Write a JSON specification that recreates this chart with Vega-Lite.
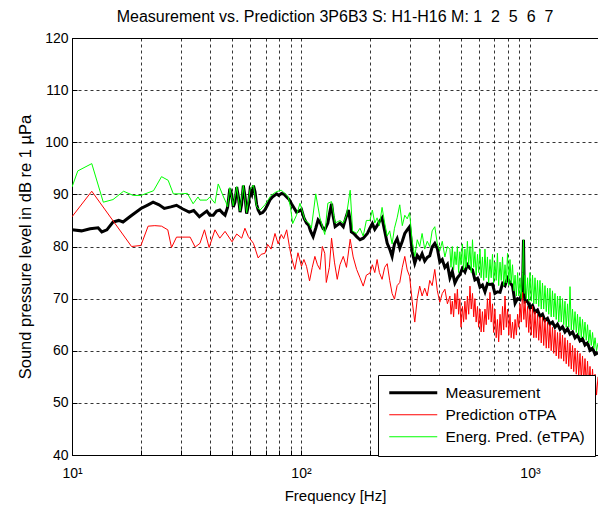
{
"$schema": "https://vega.github.io/schema/vega-lite/v6.json",
"width": 526, "height": 417,
"autosize": {"type": "none"},
"padding": {"left": 72, "top": 38, "right": 0, "bottom": 50},
"background": "white",
"title": {"text": "Measurement vs. Prediction 3P6B3 S: H1-H16 M: 1\u00a0 2\u00a0 5\u00a0 6\u00a0 7", "fontSize": 16, "fontWeight": "normal", "font": "Liberation Sans", "color": "black", "offset": 6},
"config": {
  "font": "Liberation Sans",
  "view": {"stroke": "black", "strokeWidth": 1},
  "axis": {"domainColor": "black", "tickColor": "black", "labelColor": "black", "titleColor": "black", "labelFontSize": 14, "titleFontSize": 15, "titleFontWeight": "normal", "grid": true, "gridColor": "black", "gridOpacity": 1, "gridDash": [3, 3], "gridWidth": 0.8, "tickSize": -5}
},
"data": {"values": [
{"s":"m","f":10,"v":83.2},{"s":"m","f":11,"v":83.0},{"s":"m","f":12,"v":83.4},{"s":"m","f":13,"v":83.6},{"s":"m","f":13.5,"v":82.8},{"s":"m","f":14.2,"v":83.2},{"s":"m","f":15.1,"v":84.7},{"s":"m","f":16,"v":85.0},{"s":"m","f":16.7,"v":84.7},{"s":"m","f":18,"v":85.8},{"s":"m","f":20,"v":87.3},{"s":"m","f":21.5,"v":88.0},{"s":"m","f":22.6,"v":88.5},{"s":"m","f":24,"v":88.0},{"s":"m","f":25.3,"v":87.3},{"s":"m","f":27,"v":87.6},{"s":"m","f":28.6,"v":87.9},{"s":"m","f":30.5,"v":87.2},{"s":"m","f":32.5,"v":86.6},{"s":"m","f":34,"v":86.9},{"s":"m","f":36,"v":85.7},{"s":"m","f":37.5,"v":86.3},{"s":"m","f":38.8,"v":86.8},{"s":"m","f":40,"v":86.0},{"s":"m","f":41.4,"v":86.0},{"s":"m","f":42.8,"v":86.8},{"s":"m","f":44.2,"v":87.0},{"s":"m","f":45.5,"v":86.4},{"s":"m","f":46.6,"v":86.0},{"s":"m","f":47.8,"v":87.5},{"s":"m","f":48.9,"v":91.1},{"s":"m","f":49.8,"v":90.0},{"s":"m","f":50.6,"v":87.6},{"s":"m","f":51.5,"v":88.5},{"s":"m","f":52.4,"v":91.4},{"s":"m","f":53.3,"v":89.5},{"s":"m","f":54.2,"v":86.6},{"s":"m","f":55,"v":88},{"s":"m","f":56,"v":91.7},{"s":"m","f":57,"v":89.5},{"s":"m","f":57.9,"v":86.3},{"s":"m","f":59,"v":88},{"s":"m","f":59.9,"v":90.8},{"s":"m","f":61,"v":90.0},{"s":"m","f":62,"v":91.7},{"s":"m","f":63,"v":90.5},{"s":"m","f":64,"v":88.1},{"s":"m","f":65,"v":87},{"s":"m","f":66.3,"v":86.3},{"s":"m","f":68,"v":86.5},{"s":"m","f":69.6,"v":87},{"s":"m","f":71.5,"v":88},{"s":"m","f":73.1,"v":88.9},{"s":"m","f":75,"v":89.5},{"s":"m","f":78.3,"v":90.1},{"s":"m","f":80,"v":89.8},{"s":"m","f":82.3,"v":90.2},{"s":"m","f":84.5,"v":90.0},{"s":"m","f":86.6,"v":89.5},{"s":"m","f":88.8,"v":89.0},{"s":"m","f":90.9,"v":88.2},{"s":"m","f":93,"v":87.5},{"s":"m","f":95.6,"v":86.6},{"s":"m","f":98,"v":86.8},{"s":"m","f":100.5,"v":87.1},{"s":"m","f":103,"v":85.5},{"s":"m","f":105.7,"v":84.5},{"s":"m","f":108,"v":84.1},{"s":"m","f":110,"v":83.0},{"s":"m","f":113,"v":81.9},{"s":"m","f":116,"v":83.5},{"s":"m","f":118.8,"v":85.1},{"s":"m","f":121,"v":84.7},{"s":"m","f":125,"v":83.4},{"s":"m","f":127,"v":83.2},{"s":"m","f":131,"v":84.5},{"s":"m","f":133.5,"v":86.5},{"s":"m","f":136,"v":88.2},{"s":"m","f":138,"v":86},{"s":"m","f":141,"v":83.8},{"s":"m","f":145,"v":84.2},{"s":"m","f":148,"v":84.5},{"s":"m","f":153,"v":83.8},{"s":"m","f":157,"v":85.5},{"s":"m","f":161,"v":87},{"s":"m","f":164,"v":85},{"s":"m","f":166,"v":82.8},{"s":"m","f":170,"v":82.5},{"s":"m","f":175,"v":81.9},{"s":"m","f":181,"v":81.3},{"s":"m","f":187,"v":81.6},{"s":"m","f":195,"v":82.5},
{"s":"m","f":200,"v":83.5},{"s":"m","f":205,"v":84.4},{"s":"m","f":210,"v":83.3},{"s":"m","f":215,"v":84.0},{"s":"m","f":220,"v":84.8},{"s":"m","f":226,"v":85.5},{"s":"m","f":232,"v":83.0},{"s":"m","f":238,"v":80.6},{"s":"m","f":244,"v":79.5},{"s":"m","f":250,"v":78.1},{"s":"m","f":256,"v":80.5},{"s":"m","f":263,"v":81.5},{"s":"m","f":270,"v":79.7},{"s":"m","f":277,"v":81.0},{"s":"m","f":284,"v":82.5},{"s":"m","f":291,"v":83.2},{"s":"m","f":298,"v":83.8},{"s":"m","f":306,"v":79.0},{"s":"m","f":314,"v":76.8},{"s":"m","f":322,"v":78.3},{"s":"m","f":330,"v":77.6},{"s":"m","f":338,"v":78.6},{"s":"m","f":347,"v":77.2},{"s":"m","f":356,"v":77.9},{"s":"m","f":365,"v":78.2},{"s":"m","f":374,"v":79.9},{"s":"m","f":384,"v":80.6},{"s":"m","f":394,"v":79.6},{"s":"m","f":404,"v":77.0},{"s":"m","f":414,"v":77.5},{"s":"m","f":425,"v":76.0},{"s":"m","f":436,"v":76.6},{"s":"m","f":447,"v":74.0},{"s":"m","f":458,"v":75.2},{"s":"m","f":470,"v":73.0},{"s":"m","f":482,"v":74.0},{"s":"m","f":494,"v":74.6},{"s":"m","f":507,"v":75.8},{"s":"m","f":520,"v":75.1},{"s":"m","f":533,"v":76.5},{"s":"m","f":547,"v":75.8},{"s":"m","f":561,"v":75.5},{"s":"m","f":575,"v":73.6},{"s":"m","f":590,"v":73.9},{"s":"m","f":605,"v":72.2},{"s":"m","f":620,"v":72.6},{"s":"m","f":636,"v":71.3},{"s":"m","f":652,"v":72.9},{"s":"m","f":669,"v":72.7},{"s":"m","f":686,"v":72.8},{"s":"m","f":703,"v":71.0},{"s":"m","f":721,"v":71.3},{"s":"m","f":740,"v":71.2},{"s":"m","f":759,"v":72.9},{"s":"m","f":778,"v":72.5},{"s":"m","f":798,"v":73.9},{"s":"m","f":818,"v":73.1},{"s":"m","f":839,"v":72.4},{"s":"m","f":861,"v":69.1},{"s":"m","f":883,"v":70.0},{"s":"m","f":905,"v":69.8},{"s":"m","f":928,"v":71.4},{"s":"m","f":937,"v":81.3},{"s":"m","f":945,"v":70.5},{"s":"m","f":952,"v":69.4},{"s":"m","f":976,"v":69.6},{"s":"m","f":1000,"v":68.2},{"s":"m","f":1026,"v":68.7},{"s":"m","f":1052,"v":67.4},{"s":"m","f":1079,"v":67.8},{"s":"m","f":1106,"v":66.6},{"s":"m","f":1134,"v":67.0},{"s":"m","f":1163,"v":65.8},{"s":"m","f":1193,"v":66.2},{"s":"m","f":1223,"v":65.1},{"s":"m","f":1254,"v":65.5},{"s":"m","f":1286,"v":64.5},{"s":"m","f":1319,"v":65.1},{"s":"m","f":1353,"v":64.1},{"s":"m","f":1387,"v":64.6},{"s":"m","f":1422,"v":63.6},{"s":"m","f":1459,"v":64.2},{"s":"m","f":1496,"v":63.2},{"s":"m","f":1534,"v":63.6},{"s":"m","f":1573,"v":62.5},{"s":"m","f":1613,"v":63.0},{"s":"m","f":1654,"v":61.9},{"s":"m","f":1696,"v":62.3},{"s":"m","f":1739,"v":61.1},{"s":"m","f":1784,"v":61.5},{"s":"m","f":1829,"v":60.1},{"s":"m","f":1876,"v":60.5},{"s":"m","f":1924,"v":59.3},{"s":"m","f":1982,"v":59.6},
{"s":"p","f":10,"v":85.7},{"s":"p","f":12.2,"v":90.6},{"s":"p","f":18.2,"v":80.0},{"s":"p","f":20,"v":80.2},{"s":"p","f":21.5,"v":83.9},{"s":"p","f":23,"v":84.0},{"s":"p","f":24.6,"v":83.9},{"s":"p","f":26.2,"v":83.2},{"s":"p","f":27.2,"v":79.8},{"s":"p","f":28.6,"v":81.8},{"s":"p","f":30.5,"v":81.8},{"s":"p","f":32.8,"v":81.8},{"s":"p","f":34.5,"v":79.9},{"s":"p","f":36.2,"v":80.6},{"s":"p","f":37.9,"v":83.2},{"s":"p","f":39.7,"v":79.8},{"s":"p","f":42.1,"v":83.2},{"s":"p","f":44.2,"v":81.6},{"s":"p","f":46.6,"v":82.9},{"s":"p","f":50,"v":80.9},{"s":"p","f":52.4,"v":82.4},{"s":"p","f":55.1,"v":81.6},{"s":"p","f":56.9,"v":83.5},{"s":"p","f":58.9,"v":81.9},{"s":"p","f":62,"v":80.6},{"s":"p","f":65,"v":77.8},{"s":"p","f":67,"v":78.5},{"s":"p","f":69.6,"v":78.7},{"s":"p","f":71.5,"v":80.4},{"s":"p","f":74,"v":79.5},{"s":"p","f":77,"v":82.5},{"s":"p","f":79.5,"v":80.5},{"s":"p","f":82,"v":82.3},{"s":"p","f":84,"v":81.5},{"s":"p","f":86.6,"v":83.2},{"s":"p","f":89,"v":80.0},{"s":"p","f":91,"v":77.8},{"s":"p","f":94,"v":75.6},{"s":"p","f":97,"v":78.8},{"s":"p","f":100.5,"v":76.2},{"s":"p","f":103,"v":77.5},{"s":"p","f":105.7,"v":76.2},{"s":"p","f":109,"v":73.4},{"s":"p","f":112,"v":76},{"s":"p","f":115,"v":78.1},{"s":"p","f":118,"v":76.5},{"s":"p","f":121,"v":75.6},{"s":"p","f":124,"v":80.0},{"s":"p","f":127,"v":78.7},{"s":"p","f":129,"v":73.1},{"s":"p","f":133,"v":76},{"s":"p","f":136,"v":81.6},{"s":"p","f":140,"v":77},{"s":"p","f":144,"v":73.7},{"s":"p","f":148,"v":76.5},{"s":"p","f":153,"v":78.1},{"s":"p","f":158,"v":76},{"s":"p","f":164,"v":81.4},{"s":"p","f":169,"v":78},{"s":"p","f":175,"v":75.6},{"s":"p","f":181,"v":74},{"s":"p","f":187,"v":72.4},{"s":"p","f":193,"v":74.5},
{"s":"p","f":200,"v":74.9},{"s":"p","f":205,"v":76.5},{"s":"p","f":210,"v":75.0},{"s":"p","f":215,"v":77.5},{"s":"p","f":220,"v":75.0},{"s":"p","f":226,"v":73.7},{"s":"p","f":232,"v":76.0},{"s":"p","f":238,"v":76.7},{"s":"p","f":244,"v":73.5},{"s":"p","f":250,"v":71.0},{"s":"p","f":256,"v":69.9},{"s":"p","f":263,"v":72.5},{"s":"p","f":270,"v":73.1},{"s":"p","f":277,"v":76.0},{"s":"p","f":284,"v":78.1},{"s":"p","f":291,"v":75.5},{"s":"p","f":298,"v":74.3},{"s":"p","f":306,"v":69.5},{"s":"p","f":314,"v":65.5},{"s":"p","f":322,"v":70.0},{"s":"p","f":330,"v":72.4},{"s":"p","f":338,"v":70.5},{"s":"p","f":347,"v":72.0},{"s":"p","f":356,"v":70.5},{"s":"p","f":365,"v":73.5},{"s":"p","f":374,"v":72.5},{"s":"p","f":384,"v":75.6},{"s":"p","f":394,"v":71.5},{"s":"p","f":404,"v":69.3},{"s":"p","f":414,"v":71.0},{"s":"p","f":425,"v":71.8},{"s":"p","f":436,"v":69.0},
{"s":"p","f":447,"v":70.5},{"s":"p","f":452,"v":67.0},{"s":"p","f":458,"v":69.5},{"s":"p","f":464,"v":66.5},{"s":"p","f":470,"v":71.0},{"s":"p","f":476,"v":68.0},{"s":"p","f":482,"v":71.8},{"s":"p","f":488,"v":67.0},{"s":"p","f":494,"v":70.0},{"s":"p","f":500,"v":64.5},{"s":"p","f":507,"v":68.5},{"s":"p","f":513,"v":65.5},{"s":"p","f":520,"v":69.5},{"s":"p","f":526,"v":66.0},{"s":"p","f":533,"v":70.5},{"s":"p","f":540,"v":67.0},{"s":"p","f":547,"v":72.4},{"s":"p","f":554,"v":68.0},{"s":"p","f":561,"v":71.0},{"s":"p","f":568,"v":66.5},{"s":"p","f":575,"v":70.0},{"s":"p","f":582,"v":65.5},{"s":"p","f":590,"v":68.5},{"s":"p","f":597,"v":64.5},{"s":"p","f":605,"v":68.0},{"s":"p","f":612,"v":63.6},{"s":"p","f":620,"v":67.5},{"s":"p","f":628,"v":63.6},{"s":"p","f":636,"v":68.0},{"s":"p","f":644,"v":65.0},{"s":"p","f":652,"v":70.0},{"s":"p","f":660,"v":66.0},{"s":"p","f":669,"v":71.2},{"s":"p","f":677,"v":65.5},{"s":"p","f":686,"v":69.0},{"s":"p","f":694,"v":63.5},{"s":"p","f":703,"v":68.0},{"s":"p","f":712,"v":62.5},{"s":"p","f":721,"v":66.0},{"s":"p","f":730,"v":61.7},{"s":"p","f":740,"v":67.0},{"s":"p","f":749,"v":63.0},{"s":"p","f":759,"v":68.5},{"s":"p","f":768,"v":64.0},{"s":"p","f":778,"v":70.5},{"s":"p","f":788,"v":64.5},{"s":"p","f":798,"v":68.0},{"s":"p","f":808,"v":63.0},{"s":"p","f":818,"v":67.0},{"s":"p","f":828,"v":62.5},{"s":"p","f":839,"v":65.5},{"s":"p","f":850,"v":62.3},{"s":"p","f":861,"v":66.0},{"s":"p","f":872,"v":63.0},{"s":"p","f":883,"v":67.0},{"s":"p","f":894,"v":64.5},{"s":"p","f":905,"v":69.0},{"s":"p","f":916,"v":65.5},{"s":"p","f":928,"v":71.2},{"s":"p","f":940,"v":66.0},{"s":"p","f":952,"v":69.5},{"s":"p","f":964,"v":64.5},{"s":"p","f":976,"v":68.5},{"s":"p","f":988,"v":63.5},{"s":"p","f":1000,"v":68.0},{"s":"p","f":1013,"v":63.0},{"s":"p","f":1026,"v":68.5},{"s":"p","f":1039,"v":62.5},{"s":"p","f":1052,"v":67.5},{"s":"p","f":1065,"v":62.5},{"s":"p","f":1079,"v":67.0},{"s":"p","f":1092,"v":62.0},{"s":"p","f":1106,"v":66.5},{"s":"p","f":1120,"v":61.5},{"s":"p","f":1134,"v":66.5},{"s":"p","f":1148,"v":61.0},{"s":"p","f":1163,"v":66.0},{"s":"p","f":1178,"v":60.5},{"s":"p","f":1193,"v":65.5},{"s":"p","f":1208,"v":60.5},{"s":"p","f":1223,"v":65.0},{"s":"p","f":1238,"v":60.0},{"s":"p","f":1254,"v":64.5},{"s":"p","f":1270,"v":59.5},{"s":"p","f":1286,"v":64.0},{"s":"p","f":1302,"v":59.0},{"s":"p","f":1319,"v":63.5},{"s":"p","f":1336,"v":58.5},{"s":"p","f":1353,"v":63.5},{"s":"p","f":1370,"v":58.5},{"s":"p","f":1387,"v":63.0},{"s":"p","f":1404,"v":58.0},{"s":"p","f":1422,"v":62.5},{"s":"p","f":1440,"v":57.5},{"s":"p","f":1459,"v":62.0},{"s":"p","f":1477,"v":57.0},{"s":"p","f":1496,"v":61.5},{"s":"p","f":1515,"v":56.5},{"s":"p","f":1534,"v":61.0},{"s":"p","f":1553,"v":56.0},{"s":"p","f":1573,"v":60.5},{"s":"p","f":1593,"v":55.5},{"s":"p","f":1613,"v":60.0},{"s":"p","f":1633,"v":55.0},{"s":"p","f":1654,"v":59.5},{"s":"p","f":1675,"v":54.5},{"s":"p","f":1696,"v":59.0},{"s":"p","f":1717,"v":54.0},{"s":"p","f":1739,"v":58.5},{"s":"p","f":1761,"v":53.5},{"s":"p","f":1784,"v":58.0},{"s":"p","f":1806,"v":53.0},{"s":"p","f":1829,"v":57.0},{"s":"p","f":1852,"v":52.5},{"s":"p","f":1876,"v":56.5},{"s":"p","f":1900,"v":52.0},{"s":"p","f":1924,"v":55.5},{"s":"p","f":1953,"v":51.5},{"s":"p","f":1982,"v":55.0},
{"s":"e","f":10,"v":91.4},{"s":"e","f":10.6,"v":94.5},{"s":"e","f":12.2,"v":95.9},{"s":"e","f":13.7,"v":88.5},{"s":"e","f":15.1,"v":89.0},{"s":"e","f":16.8,"v":90.6},{"s":"e","f":18.5,"v":89.8},{"s":"e","f":20,"v":89.8},{"s":"e","f":22.7,"v":90.7},{"s":"e","f":24.6,"v":93.4},{"s":"e","f":26.3,"v":92.7},{"s":"e","f":27.7,"v":90.1},{"s":"e","f":30,"v":90.1},{"s":"e","f":31.9,"v":90.2},{"s":"e","f":33.8,"v":88.2},{"s":"e","f":35.5,"v":89.5},{"s":"e","f":36.2,"v":88.9},{"s":"e","f":38.8,"v":88.9},{"s":"e","f":40,"v":89.5},{"s":"e","f":42.1,"v":88.3},{"s":"e","f":43.5,"v":92.0},{"s":"e","f":45.9,"v":89.5},{"s":"e","f":47,"v":88.5},{"s":"e","f":47.8,"v":87.6},{"s":"e","f":48.9,"v":91.3},{"s":"e","f":50.6,"v":87.8},{"s":"e","f":52.4,"v":91.5},{"s":"e","f":54.2,"v":86.8},{"s":"e","f":56,"v":91.8},{"s":"e","f":57.9,"v":86.5},{"s":"e","f":59.9,"v":90.9},{"s":"e","f":62,"v":91.8},{"s":"e","f":64,"v":87.6},{"s":"e","f":66.3,"v":87.0},{"s":"e","f":69.6,"v":88.0},{"s":"e","f":74,"v":89.8},{"s":"e","f":78,"v":90.5},{"s":"e","f":82,"v":90.8},{"s":"e","f":85,"v":90.2},{"s":"e","f":88,"v":89.5},{"s":"e","f":90,"v":87.5},{"s":"e","f":92,"v":84.4},{"s":"e","f":95.6,"v":86.0},{"s":"e","f":99,"v":88.3},{"s":"e","f":104,"v":85.1},{"s":"e","f":108,"v":84.5},{"s":"e","f":111,"v":83.5},{"s":"e","f":116,"v":90.1},{"s":"e","f":121,"v":85.5},{"s":"e","f":127,"v":82.3},{"s":"e","f":131,"v":88.3},{"s":"e","f":136,"v":88.6},{"s":"e","f":141,"v":84.5},{"s":"e","f":148,"v":85},{"s":"e","f":153,"v":84.5},{"s":"e","f":158,"v":86},{"s":"e","f":164,"v":90.8},{"s":"e","f":168,"v":83},{"s":"e","f":175,"v":82.5},{"s":"e","f":181,"v":83.5},{"s":"e","f":187,"v":82},{"s":"e","f":193,"v":85},
{"s":"e","f":200,"v":85.0},{"s":"e","f":205,"v":87.0},{"s":"e","f":210,"v":84.5},{"s":"e","f":215,"v":85.5},{"s":"e","f":220,"v":84.0},{"s":"e","f":226,"v":87.5},{"s":"e","f":232,"v":84.5},{"s":"e","f":238,"v":82.0},{"s":"e","f":244,"v":83.0},{"s":"e","f":250,"v":80.5},{"s":"e","f":256,"v":83.5},{"s":"e","f":263,"v":85.5},{"s":"e","f":270,"v":88.0},{"s":"e","f":277,"v":84.0},{"s":"e","f":284,"v":86.0},{"s":"e","f":291,"v":85.3},{"s":"e","f":298,"v":86.5},{"s":"e","f":306,"v":81.0},{"s":"e","f":314,"v":78.1},{"s":"e","f":322,"v":81.3},{"s":"e","f":330,"v":80.0},{"s":"e","f":338,"v":82.5},{"s":"e","f":347,"v":79.5},{"s":"e","f":356,"v":81.0},{"s":"e","f":365,"v":80.0},{"s":"e","f":374,"v":83.0},{"s":"e","f":384,"v":83.8},{"s":"e","f":394,"v":80.5},{"s":"e","f":404,"v":79.2},{"s":"e","f":414,"v":81.0},{"s":"e","f":425,"v":78.0},{"s":"e","f":436,"v":80.0},
{"s":"e","f":447,"v":79.5},{"s":"e","f":452,"v":76.0},{"s":"e","f":458,"v":80.0},{"s":"e","f":464,"v":75.5},{"s":"e","f":470,"v":79.0},{"s":"e","f":476,"v":76.5},{"s":"e","f":482,"v":80.0},{"s":"e","f":488,"v":75.0},{"s":"e","f":494,"v":79.0},{"s":"e","f":500,"v":76.5},{"s":"e","f":507,"v":80.5},{"s":"e","f":513,"v":75.5},{"s":"e","f":520,"v":79.5},{"s":"e","f":526,"v":76.0},{"s":"e","f":533,"v":81.0},{"s":"e","f":540,"v":76.5},{"s":"e","f":547,"v":80.0},{"s":"e","f":554,"v":75.0},{"s":"e","f":561,"v":81.3},{"s":"e","f":568,"v":76.0},{"s":"e","f":575,"v":79.0},{"s":"e","f":582,"v":74.5},{"s":"e","f":590,"v":78.5},{"s":"e","f":597,"v":75.0},{"s":"e","f":605,"v":79.5},{"s":"e","f":612,"v":74.0},{"s":"e","f":620,"v":78.0},{"s":"e","f":628,"v":73.5},{"s":"e","f":636,"v":79.5},{"s":"e","f":644,"v":74.0},{"s":"e","f":652,"v":78.0},{"s":"e","f":660,"v":73.0},{"s":"e","f":669,"v":77.5},{"s":"e","f":677,"v":74.0},{"s":"e","f":686,"v":78.5},{"s":"e","f":694,"v":73.0},{"s":"e","f":703,"v":77.0},{"s":"e","f":712,"v":73.5},{"s":"e","f":721,"v":78.7},{"s":"e","f":730,"v":72.5},{"s":"e","f":740,"v":77.0},{"s":"e","f":749,"v":73.5},{"s":"e","f":759,"v":78.0},{"s":"e","f":768,"v":72.5},{"s":"e","f":778,"v":76.5},{"s":"e","f":788,"v":73.0},{"s":"e","f":798,"v":78.7},{"s":"e","f":808,"v":72.5},{"s":"e","f":818,"v":77.5},{"s":"e","f":828,"v":73.0},{"s":"e","f":839,"v":76.5},{"s":"e","f":850,"v":71.5},{"s":"e","f":861,"v":74.5},{"s":"e","f":872,"v":70.5},{"s":"e","f":883,"v":75.0},{"s":"e","f":894,"v":70.5},{"s":"e","f":905,"v":74.0},{"s":"e","f":916,"v":70.0},{"s":"e","f":928,"v":75.0},{"s":"e","f":937,"v":81.3},{"s":"e","f":945,"v":71.0},{"s":"e","f":952,"v":74.5},{"s":"e","f":964,"v":70.0},{"s":"e","f":976,"v":74.0},{"s":"e","f":988,"v":69.5},{"s":"e","f":1000,"v":75.0},{"s":"e","f":1013,"v":69.5},{"s":"e","f":1026,"v":74.5},{"s":"e","f":1039,"v":69.0},{"s":"e","f":1052,"v":74.0},{"s":"e","f":1065,"v":69.0},{"s":"e","f":1079,"v":73.5},{"s":"e","f":1092,"v":68.5},{"s":"e","f":1106,"v":73.5},{"s":"e","f":1120,"v":68.0},{"s":"e","f":1134,"v":73.0},{"s":"e","f":1148,"v":68.0},{"s":"e","f":1163,"v":72.5},{"s":"e","f":1178,"v":67.5},{"s":"e","f":1193,"v":72.0},{"s":"e","f":1208,"v":67.0},{"s":"e","f":1223,"v":72.0},{"s":"e","f":1238,"v":66.5},{"s":"e","f":1254,"v":71.5},{"s":"e","f":1270,"v":66.5},{"s":"e","f":1286,"v":71.0},{"s":"e","f":1302,"v":66.0},{"s":"e","f":1319,"v":70.5},{"s":"e","f":1336,"v":65.5},{"s":"e","f":1353,"v":70.5},{"s":"e","f":1370,"v":65.5},{"s":"e","f":1387,"v":70.0},{"s":"e","f":1404,"v":65.0},{"s":"e","f":1422,"v":69.5},{"s":"e","f":1440,"v":64.5},{"s":"e","f":1459,"v":69.0},{"s":"e","f":1477,"v":64.5},{"s":"e","f":1496,"v":72.3},{"s":"e","f":1515,"v":64.0},{"s":"e","f":1534,"v":68.0},{"s":"e","f":1553,"v":64.0},{"s":"e","f":1573,"v":67.5},{"s":"e","f":1593,"v":63.5},{"s":"e","f":1613,"v":67.0},{"s":"e","f":1633,"v":63.0},{"s":"e","f":1654,"v":66.5},{"s":"e","f":1675,"v":62.5},{"s":"e","f":1696,"v":66.0},{"s":"e","f":1717,"v":62.5},{"s":"e","f":1739,"v":65.5},{"s":"e","f":1761,"v":62.0},{"s":"e","f":1784,"v":65.0},{"s":"e","f":1806,"v":61.5},{"s":"e","f":1829,"v":64.0},{"s":"e","f":1852,"v":61.0},{"s":"e","f":1876,"v":63.5},{"s":"e","f":1900,"v":60.5},{"s":"e","f":1924,"v":62.5},{"s":"e","f":1953,"v":60.0},{"s":"e","f":1982,"v":61.5}
]},
"mark": {"type": "line", "clip": true},
"encoding": {
  "x": {"field": "f", "type": "quantitative", "scale": {"type": "log", "domain": [10, 1982], "nice": false},
        "axis": {"title": "Frequency [Hz]", "values": [10,20,30,40,50,60,70,80,90,100,200,300,400,500,600,700,800,900,1000], "labelExpr": "datum.value == 10 ? '10¹' : datum.value == 100 ? '10²' : datum.value == 1000 ? '10³' : ''", "labelOverlap": false, "labelFlush": false, "labelPadding": 16, "titlePadding": 8}},
  "y": {"field": "v", "type": "quantitative", "scale": {"domain": [40, 120], "nice": false},
        "axis": {"title": "Sound pressure level in dB re 1 µPa", "titleFontSize": 16.5, "values": [40,50,60,70,80,90,100,110,120], "labelPadding": 9, "titlePadding": 11}},
  "color": {"field": "s", "type": "nominal", "scale": {"domain": ["m", "p", "e"], "range": ["#000000", "#ff0000", "#00ff00"]},
            "legend": {"orient": "none", "legendX": 306, "legendY": 337, "title": null, "symbolType": "M-1.3,0H8.3", "symbolSize": 100, "labelFontSize": 15.5, "labelColor": "black", "labelExpr": "datum.label == 'm' ? 'Measurement' : datum.label == 'p' ? 'Prediction oTPA' : 'Energ. Pred. (eTPA)'", "padding": 10, "strokeColor": "black", "fillColor": "white", "rowPadding": 5, "labelOffset": 42}},
  "strokeWidth": {"field": "s", "type": "nominal", "scale": {"type": "ordinal", "domain": ["m", "p", "e"], "range": [3, 1, 1]},
            "legend": {"orient": "none", "legendX": 306, "legendY": 337, "title": null, "symbolType": "M-1.3,0H8.3", "symbolSize": 100, "labelFontSize": 15.5, "labelColor": "black", "labelExpr": "datum.label == 'm' ? 'Measurement' : datum.label == 'p' ? 'Prediction oTPA' : 'Energ. Pred. (eTPA)'", "padding": 10, "strokeColor": "black", "fillColor": "white", "rowPadding": 5, "labelOffset": 42}}
}
}
